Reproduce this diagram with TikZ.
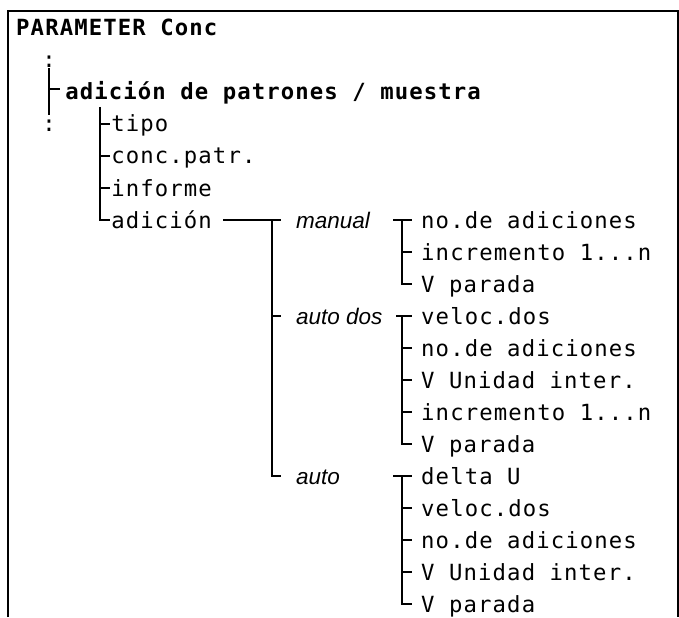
\documentclass[tikz,border=0pt]{standalone}
\usepackage{fontspec}
\newfontfamily\monott[LetterSpace=5]{DejaVu Sans Mono}
\newfontfamily\labelsf{Liberation Sans}
\usetikzlibrary{positioning}

\begin{document}
\begin{tikzpicture}[
    x=0.03125cm, y=-0.03125cm,
    item/.style={font=\monott\fontsize{19.8pt}{22pt}\selectfont, inner sep=0pt,
                 text height=15pt, text depth=0pt, anchor=base west},
    head/.style={item, font=\monott\bfseries\fontsize{19.8pt}{22pt}\selectfont},
    leaf/.style={item, inner xsep=8pt},
    sub/.style={font=\labelsf\itshape\fontsize{20pt}{22pt}\selectfont, inner sep=0pt,
                inner xsep=13.3pt, text height=15pt, text depth=0pt, anchor=base west},
    wire/.style={line width=1.8pt},
]
  \useasboundingbox (0,0) rectangle (679,617);

  % ---- Frame ----
  \draw[wire] (8,617) -- (8,11) -- (678,11) -- (678,617);

  % ---- Header and first level ----
  \node[head] (par) at (16,36) {PARAMETER Conc};
  \node[item, anchor=base] (c1) at (49,68) {:};
  \node[head, inner xsep=4.5pt, text height=20pt] (adp) at (60,100)
    {adición de patrones / muestra};
  \node[item, anchor=base] (c3) at (49,132) {:};
  \draw[wire] (c1.south) -- (c3.north);
  \draw[wire] (c1.south |- adp.west) -- (adp.west);

  % ---- Second level ----
  \node[item, inner xsep=1pt] (tipo) at (110,132) {tipo};
  \node[item, inner xsep=1pt] (conc) at (110,164) {conc.patr.};
  \node[item, inner xsep=1pt] (inf)  at (110,196) {informe};
  \node[item, inner xsep=1pt] (adic) at (110,228) {adición};
  \coordinate (l2top) at (100,107);
  \draw[wire] (l2top) |- (adic.west);
  \foreach \n in {tipo, conc, inf}
    \draw[wire] (l2top |- \n.west) -- (\n.west);

  % ---- Modes of addition ----
  \node[sub] (man)  at (281,228) {manual};
  \node[sub] (ados) at (281,324) {auto dos};
  \node[sub] (aut)  at (281,484) {auto};
  \path (man.west) ++(-9,0) coordinate (jmode);
  \draw[wire] (adic.east) ++(10,0) -- (man.west);
  \draw[wire] (jmode) |- (aut.west);
  \draw[wire] (jmode |- ados.west) -- (ados.west);

  % ---- manual ----
  \node[leaf] (m1) at (412,228) {no.de adiciones};
  \node[leaf] (m2) at (412,260) {incremento 1...n};
  \node[leaf] (m3) at (412,292) {V parada};
  \path (m1.west) ++(-10,0) coordinate (jm);
  \draw[wire] (jm) ++(-9,0) -- (m1.west);
  \draw[wire] (jm) |- (m3.west);
  \draw[wire] (jm |- m2.west) -- (m2.west);

  % ---- auto dos ----
  \node[leaf] (d1) at (412,324) {veloc.dos};
  \node[leaf] (d2) at (412,356) {no.de adiciones};
  \node[leaf] (d3) at (412,388) {V Unidad inter.};
  \node[leaf] (d4) at (412,420) {incremento 1...n};
  \node[leaf] (d5) at (412,452) {V parada};
  \path (d1.west) ++(-10,0) coordinate (jd);
  \draw[wire] (jd) ++(-6,0) -- (d1.west);
  \draw[wire] (jd) |- (d5.west);
  \foreach \n in {d2, d3, d4}
    \draw[wire] (jd |- \n.west) -- (\n.west);

  % ---- auto ----
  \node[leaf] (a1) at (412,484) {delta U};
  \node[leaf] (a2) at (412,516) {veloc.dos};
  \node[leaf] (a3) at (412,548) {no.de adiciones};
  \node[leaf] (a4) at (412,580) {V Unidad inter.};
  \node[leaf] (a5) at (412,612) {V parada};
  \path (a1.west) ++(-10,0) coordinate (ja);
  \draw[wire] (ja) ++(-9,0) -- (a1.west);
  \draw[wire] (ja) |- (a5.west);
  \foreach \n in {a2, a3, a4}
    \draw[wire] (ja |- \n.west) -- (\n.west);

\end{tikzpicture}
\end{document}
